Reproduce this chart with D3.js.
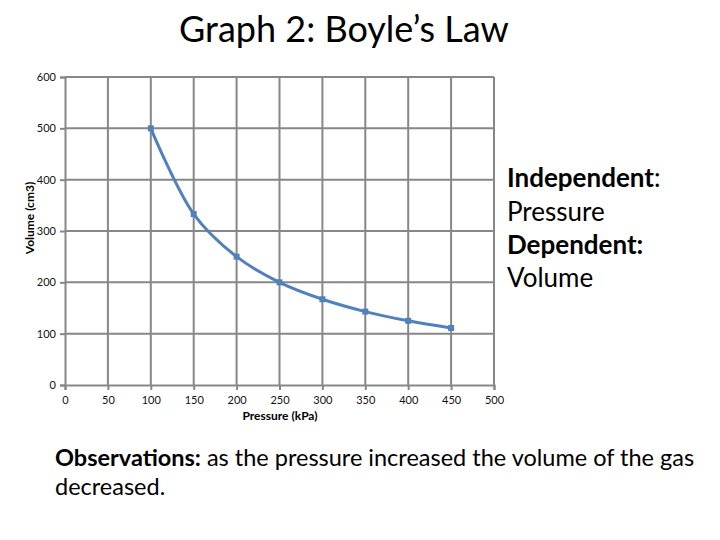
<!DOCTYPE html>
<html>
<head>
<meta charset="utf-8">
<script src="https://cdn.jsdelivr.net/npm/d3@7"></script>
<style>
body { margin: 0; background: #fff; }
svg { font-family: Lato, "Open Sans", sans-serif; }
</style>
</head>
<body>
<svg width="720" height="540"></svg>
<script>
var pressure = [100, 150, 200, 250, 300, 350, 400, 450];
var volume = [500, 333, 250, 200, 167, 143, 125, 111];
var xTicks = [0, 50, 100, 150, 200, 250, 300, 350, 400, 450, 500];
var yTicks = [0, 100, 200, 300, 400, 500, 600];

var svg = d3.select("svg");
var plotLeft = 65, plotRight = 494, plotTop = 77, plotBottom = 385;

var xScale = d3.scaleLinear().domain([0, 500]).range([plotLeft, plotRight]);
var yScale = d3.scaleLinear().domain([0, 600]).range([plotBottom, plotTop]);

// gridlines
svg.append("g").selectAll("line").data(xTicks.slice(1)).enter().append("line")
  .attr("x1", function(d){return xScale(d)}).attr("x2", function(d){return xScale(d)})
  .attr("y1", plotTop).attr("y2", plotBottom)
  .style("stroke", "#878787").style("stroke-width", 2);
svg.append("g").selectAll("line").data(yTicks.slice(1)).enter().append("line")
  .attr("x1", plotLeft).attr("x2", plotRight)
  .attr("y1", function(d){return yScale(d)}).attr("y2", function(d){return yScale(d)})
  .style("stroke", "#878787").style("stroke-width", 2);

var xAxis = d3.axisBottom(xScale).tickValues(xTicks).tickSize(5).tickPadding(6);
var gx = svg.append("g").attr("transform", "translate(0," + plotBottom + ")").call(xAxis);
var yAxis = d3.axisLeft(yScale).tickValues(yTicks).tickSize(5).tickPadding(4);
var gy = svg.append("g").attr("transform", "translate(" + plotLeft + ",0)").call(yAxis);

[gx, gy].forEach(function(g){
  g.select(".domain").style("stroke", "#878787").style("stroke-width", 2);
  g.selectAll(".tick line").style("stroke", "#878787").style("stroke-width", 2);
  g.selectAll(".tick text").style("font-size", "11px").style("fill", "#111")
    .style("font-family", "Lato, sans-serif");
});

// axis titles
svg.append("text").attr("x", 280).attr("y", 420).attr("text-anchor", "middle")
  .style("font-size", "12px").style("font-weight", "bold").text("Pressure (kPa)");
svg.append("text").attr("transform", "translate(34,218) rotate(-90)").attr("text-anchor", "middle")
  .style("font-size", "12px").style("font-weight", "bold").text("Volume (cm3)");

// data
var data = pressure.map(function(p, i){return {p: p, v: volume[i]}});
var line = d3.line().x(function(d){return xScale(d.p)}).y(function(d){return yScale(d.v)})
  .curve(d3.curveCatmullRom.alpha(0.5));
svg.append("path").datum(data).attr("d", line)
  .style("fill", "none").style("stroke", "#4f81bd").style("stroke-width", 3);
svg.append("g").selectAll("rect").data(data).enter().append("rect")
  .attr("x", function(d){return xScale(d.p) - 3}).attr("y", function(d){return yScale(d.v) - 3})
  .attr("width", 6).attr("height", 6).style("fill", "#4f81bd");

// title
svg.append("text").attr("x", 344).attr("y", 42).attr("text-anchor", "middle")
  .style("font-size", "36px").text("Graph 2: Boyle\u2019s Law");

// side notes
var side = svg.append("text").attr("x", 507).style("font-size", "26px");
var t1 = side.append("tspan").attr("x", 507).attr("y", 187);
t1.append("tspan").style("font-weight", "bold").text("Independent");
t1.append("tspan").text(":");
side.append("tspan").attr("x", 507).attr("y", 221).text("Pressure");
side.append("tspan").attr("x", 507).attr("y", 254).style("font-weight", "bold").text("Dependent:");
side.append("tspan").attr("x", 507).attr("y", 287).text("Volume");

// observations
var obs = svg.append("text").style("font-size", "23.5px");
var o1 = obs.append("tspan").attr("x", 55).attr("y", 466);
o1.append("tspan").style("font-weight", "bold").text("Observations:");
o1.append("tspan").text(" as the pressure increased the volume of the gas");
obs.append("tspan").attr("x", 55).attr("y", 495).text("decreased.");
</script>
</body>
</html>
